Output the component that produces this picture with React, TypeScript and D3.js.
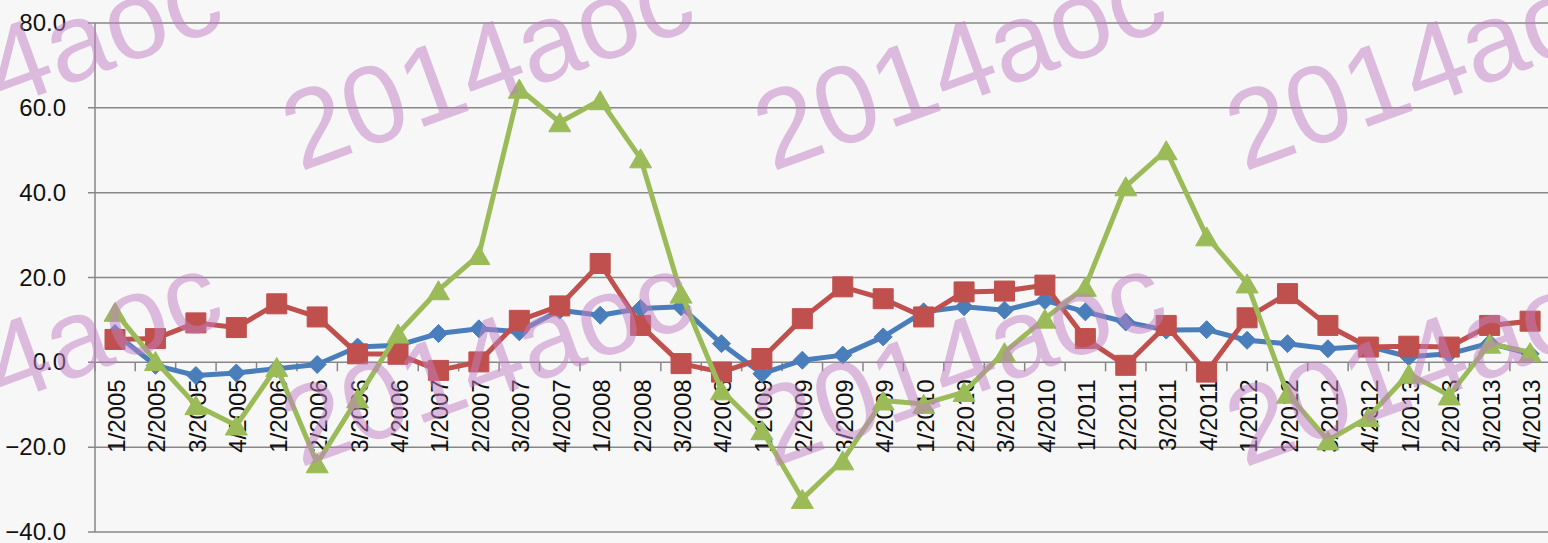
import React from "react";
import * as d3 from "d3";

const categories = [
  "1/2005","2/2005","3/2005","4/2005",
  "1/2006","2/2006","3/2006","4/2006",
  "1/2007","2/2007","3/2007","4/2007",
  "1/2008","2/2008","3/2008","4/2008",
  "1/2009","2/2009","3/2009","4/2009",
  "1/2010","2/2010","3/2010","4/2010",
  "1/2011","2/2011","3/2011","4/2011",
  "1/2012","2/2012","3/2012","4/2012",
  "1/2013","2/2013","3/2013","4/2013",
];

const blueValues = [
  6.8, -0.7, -3.1, -2.5, -1.5, -0.5, 3.6, 4.0,
  6.8, 7.9, 7.2, 12.3, 11.1, 12.7, 13.1, 4.4,
  -2.7, 0.5, 1.7, 6.0, 11.9, 13.1, 12.3, 14.6,
  11.9, 9.5, 7.6, 7.7, 5.2, 4.4, 3.2, 3.8,
  1.3, 2.0, 4.5, 2.0,
];

const redValues = [
  5.4, 5.6, 9.3, 8.2, 13.8, 10.7, 2.0, 1.9,
  -1.9, 0.1, 9.9, 13.3, 23.3, 8.7, -0.3, -2.3,
  0.9, 10.3, 17.8, 15.0, 10.7, 16.6, 16.8, 18.2,
  5.6, -0.7, 8.7, -2.3, 10.5, 16.2, 8.7, 3.6,
  3.8, 3.6, 8.7, 9.7,
];

const greenValues = [
  11.9, 0.3, -10.1, -14.9, -1.1, -23.8, -8.5, 6.8,
  17.0, 25.3, 64.5, 56.6, 61.8, 48.1, 16.2, -6.6,
  -16.0, -32.2, -23.1, -9.0, -9.8, -7.0, 2.4, 10.3,
  17.8, 41.5, 50.0, 29.7, 18.6, -7.4, -18.4, -12.9,
  -2.7, -7.8, 4.4, 2.4,
];

const yTicks = [-40, -20, 0, 20, 40, 60, 80];

const watermarkText = "2014aoc";

const W = 1548;
const H = 543;

export default function App() {
  const x = d3.scaleBand<string>().domain(categories).range([94.8, 1550.3]).padding(0);
  const y = d3.scaleLinear().domain([-40, 80]).range([532, 23]);
  const cx = (c: string) => (x(c) as number) + x.bandwidth() / 2;
  const fmt = d3.format(".1f");

  const line = d3
    .line<number>()
    .x((_, i) => cx(categories[i]))
    .y((d) => y(d));

  const series = [
    { values: blueValues, color: "#4A7EBB", marker: "diamond" },
    { values: redValues, color: "#C0504D", marker: "square" },
    { values: greenValues, color: "#9BBB59", marker: "triangle" },
  ];

  const markerPath = (type: string, px: number, py: number) => {
    if (type === "diamond") {
      const r = 9;
      return `M${px},${py - r}L${px + r},${py}L${px},${py + r}L${px - r},${py}Z`;
    }
    if (type === "square") {
      const s = 10;
      return `M${px - s},${py - s}H${px + s}V${py + s}H${px - s}Z`;
    }
    const hw = 11;
    const hh = 9.5;
    return `M${px},${py - hh}L${px + hw},${py + hh}L${px - hw},${py + hh}Z`;
  };

  const boundaries = categories.map((c) => x(c) as number).concat([(x(categories[categories.length - 1]) as number) + x.bandwidth()]);

  const wmXs = [-172, 300, 772, 1244];
  const wmYs = [172, 468];

  return (
    <svg
      width={W}
      height={H}
      style={{ position: "absolute", left: 0, top: 0, background: "#f7f7f7" }}
      fontFamily="'Liberation Sans', Arial, sans-serif"
    >
      <rect x={0} y={0} width={W} height={H} fill="#f7f7f7" />
      {/* gridlines */}
      {yTicks.map((t) => (
        <line key={"g" + t} x1={88} x2={W} y1={y(t)} y2={y(t)} stroke="#878787" strokeWidth={1.5} />
      ))}
      {/* y axis */}
      <line x1={95} x2={95} y1={y(80)} y2={y(-40)} stroke="#878787" strokeWidth={1.5} />
      {/* x ticks at band boundaries on zero line */}
      {boundaries.map((b, i) => (
        <line key={"xt" + i} x1={b} x2={b} y1={y(0)} y2={y(0) + 9} stroke="#878787" strokeWidth={1.5} />
      ))}
      {/* y labels */}
      {yTicks.map((t) => (
        <text key={"yl" + t} x={66} y={y(t) + 8} textAnchor="end" fontSize={24} fill="#111">
          {fmt(t)}
        </text>
      ))}
      {/* x labels */}
      {categories.map((c) => (
        <text
          key={"xl" + c}
          transform={`translate(${cx(c) + 10},${y(0) + 17}) rotate(-90)`}
          textAnchor="end"
          fontSize={24}
          fill="#111"
        >
          {c}
        </text>
      ))}
      {/* series */}
      {series.map((s, si) => (
        <g key={"s" + si}>
          <path d={line(s.values) as string} fill="none" stroke={s.color} strokeWidth={5} strokeLinejoin="round" />
          {s.values.map((v, i) => (
            <path
              key={"m" + i}
              d={markerPath(s.marker, cx(categories[i]), y(v))}
              fill={s.color}
              stroke={s.color}
              strokeWidth={1}
            />
          ))}
        </g>
      ))}
      {/* watermark */}
      <g fill="#c27ec4" fillOpacity={0.5}>
        {wmYs.map((wy) =>
          wmXs.map((wx) => (
            <text
              key={`w${wx}-${wy}`}
              x={wx}
              y={wy}
              fontSize={111}
              transform={`rotate(-20, ${wx}, ${wy})`}
            >
              {watermarkText}
            </text>
          ))
        )}
      </g>
    </svg>
  );
}
